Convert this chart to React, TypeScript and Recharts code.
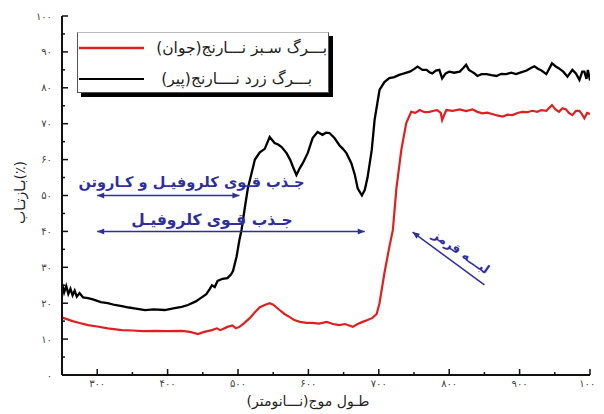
import React from 'react';
import { LineChart, Line, XAxis, YAxis, ReferenceLine, ReferenceDot, Legend } from 'recharts';

// wavelength (nm) and reflectance (%)
const blackWl = [250, 253, 256, 259, 262, 265, 268, 271, 275, 280, 287, 295, 305, 315, 325, 335, 345, 355, 368, 380, 396, 410, 420, 429, 440, 449, 455, 460, 463, 467, 471, 478, 485, 490, 493, 498, 502, 505, 510, 514, 519, 524, 531, 538, 545, 552, 557, 562, 569, 574, 578, 583, 588, 592, 599, 606, 613, 620, 625, 630, 637, 644, 649, 654, 661, 666, 670, 676, 680, 684, 690, 694, 701, 708, 715, 722, 729, 736, 744, 750, 755, 762, 768, 772, 776, 781, 786, 790, 795, 800, 807, 815, 820, 824, 828, 832, 836, 840, 846, 853, 860, 867, 874, 881, 888, 895, 902, 910, 916, 921, 926, 931, 938, 946, 951, 956, 962, 968, 975, 980, 985, 989, 992, 995, 997, 1000];
const blackVal = [25.5, 23, 24.8, 22.6, 24, 22.2, 23.5, 21.8, 22.8, 21.6, 21.4, 21, 20.3, 20, 19.5, 19.2, 18.8, 18.5, 18.1, 18.3, 18.1, 18.6, 19, 19.5, 20.5, 21.7, 22.5, 24, 25, 24.5, 26.2, 26.8, 27, 28, 29, 33, 37.6, 40.4, 47, 52, 56, 60, 62, 63, 66.3, 64.6, 64.2, 63.5, 61.8, 60, 58, 55.7, 57.7, 59, 61.8, 66, 67.7, 66.9, 67.5, 67.4, 66, 64, 63, 61.8, 59, 55.7, 52, 50, 51.5, 55, 62.7, 71, 79.4, 81.6, 82.7, 83, 83.6, 84, 84.5, 85.2, 85.9, 85, 85, 84.3, 84, 84.8, 85, 82.6, 84, 84.5, 84.2, 84.5, 85.5, 86.4, 85, 84.5, 84, 83.3, 83.8, 83.8, 83.5, 83.3, 83.9, 83.8, 84.2, 83.8, 84.3, 84.8, 85.5, 86, 85.3, 84.8, 83.8, 86.8, 86, 85.4, 84.5, 83.1, 85, 84, 82.2, 84.5, 84.5, 82.5, 85, 82];

const redWl = [250, 258, 265, 275, 287, 300, 315, 335, 350, 365, 382, 400, 420, 432, 443, 452, 463, 470, 475, 485, 492, 497, 502, 508, 517, 524, 531, 538, 545, 550, 559, 566, 573, 580, 588, 597, 606, 615, 626, 635, 644, 652, 663, 670, 677, 684, 691, 697, 701, 708, 715, 720, 725, 732, 739, 746, 752, 758, 765, 772, 778, 783, 788, 790, 793, 796, 805, 815, 824, 833, 840, 847, 854, 861, 868, 876, 883, 890, 897, 904, 911, 918, 925, 931, 938, 946, 951, 956, 961, 966, 970, 975, 980, 985, 989, 992, 996, 1000];
const redVal = [16, 15.5, 15, 14.5, 13.9, 13.5, 13, 12.5, 12.4, 12.2, 12.3, 12.2, 12.3, 12, 11.4, 12, 12.5, 13, 12.5, 13.4, 13.8, 13, 13.4, 14.3, 15.9, 17.5, 18.9, 19.5, 20, 19.6, 18.1, 17, 16.2, 15.3, 14.8, 14.5, 14.5, 14.3, 14.8, 14.2, 13.9, 14.2, 13.4, 14.2, 14.8, 15.3, 15.9, 17, 20, 28.4, 35.7, 40.4, 52, 62.7, 70.2, 73.3, 73, 73.8, 73.2, 73.3, 73.6, 73.8, 73, 71, 72.5, 73.8, 73.6, 74, 73.5, 74, 73.3, 72.9, 73.1, 72.7, 72.3, 72, 72.5, 72.4, 73, 73.3, 73.2, 73.6, 73.3, 73.8, 73.6, 75.2, 74, 73.3, 74.3, 74, 73, 72.4, 73.6, 73.6, 72.5, 71.5, 73, 72.7];

const xTicks = [300, 350, 400, 450, 500, 550, 600, 650, 700, 750, 800, 850, 900, 950, 1000];
const yTicks = [0, 5, 10, 15, 20, 25, 30, 35, 40, 45, 50, 55, 60, 65, 70, 75, 80, 85, 90, 95, 100];

const seriesNames = ['بـــرگ سـبز نـــارنج(جوان)', 'بـــرگ زرد نــــارنج(پیر)'];
const xTitle = 'طـول موج(نـــانومتر)';
const yTitle = 'بـازتـاب(٪)';
const noteBoth = 'جـذب قـوی کلروفیـل و کـاروتن';
const noteChl = 'جـذب قـوی کلروفیـل';
const noteRedEdge = 'لبـــه قرمز';

const blackData = blackWl.map((x, i) => ({ x, y: blackVal[i] }));
const redData = redWl.map((x, i) => ({ x, y: redVal[i] }));

const FA = '۰۱۲۳۴۵۶۷۸۹';
const toFa = (n: number) => String(n).replace(/\d/g, (d) => FA[+d]);

const FONT = '"DejaVu Sans", sans-serif';
const BLUE = '#2e2ea0';
const AX = '#111';

const LeftTick = (p: any) => {
  const v = p.payload.value;
  const major = v % 10 === 0;
  return (
    <g>
      <line x1={p.x} x2={p.x + (major ? 6 : 3)} y1={p.y} y2={p.y} stroke={AX} strokeWidth={1.5} />
      {major && (
        <text x={p.x - 10} y={p.y} dy={3.5} textAnchor="end" fontSize={10} fill="#444" fontFamily={FONT}>
          {toFa(v)}
        </text>
      )}
    </g>
  );
};
const RightTick = (p: any) => {
  const v = p.payload.value;
  const major = v % 10 === 0;
  return <line x1={p.x} x2={p.x - (major ? 5 : 3)} y1={p.y} y2={p.y} stroke={AX} strokeWidth={1.5} />;
};
const BottomTick = (p: any) => {
  const v = p.payload.value;
  const major = v % 100 === 0;
  return (
    <g>
      <line x1={p.x} x2={p.x} y1={p.y} y2={p.y - (major ? 6 : 3)} stroke={AX} strokeWidth={1.5} />
      {major && (
        <text x={p.x} y={p.y + 12} textAnchor="middle" fontSize={10} fill="#444" fontFamily={FONT}>
          {toFa(v)}
        </text>
      )}
    </g>
  );
};
const TopTick = (p: any) => {
  const v = p.payload.value;
  const major = v % 100 === 0;
  return <line x1={p.x} x2={p.x} y1={p.y} y2={p.y + (major ? 6 : 3)} stroke={AX} strokeWidth={1.5} />;
};

const head = (x: number, y: number, dx: number, dy: number) => {
  const len = Math.hypot(dx, dy) || 1;
  const ux = dx / len, uy = dy / len;
  const L = 7, W = 3;
  const bx = x - ux * L, by = y - uy * L;
  return `${x},${y} ${bx - uy * W},${by + ux * W} ${bx + uy * W},${by - ux * W}`;
};

const DoubleArrow = (p: any) => {
  const { x1, y1, x2, y2 } = p;
  return (
    <g>
      <line x1={x1} y1={y1} x2={x2} y2={y2} stroke={BLUE} strokeWidth={1.5} />
      <polygon points={head(x1, y1, x1 - x2, y1 - y2)} fill={BLUE} />
      <polygon points={head(x2, y2, x2 - x1, y2 - y1)} fill={BLUE} />
    </g>
  );
};
const SingleArrow = (p: any) => {
  const { x1, y1, x2, y2 } = p;
  return (
    <g>
      <line x1={x1} y1={y1} x2={x2} y2={y2} stroke={BLUE} strokeWidth={1.5} />
      <polygon points={head(x1, y1, x1 - x2, y1 - y2)} fill={BLUE} />
    </g>
  );
};

const noteText = (txt: string, size: number, rot = 0) => (p: any) => (
  <text
    x={p.cx}
    y={p.cy}
    dy={size * 0.35}
    textAnchor="middle"
    fontSize={size}
    fontWeight="bold"
    fill={BLUE}
    fontFamily={FONT}
    transform={rot ? `rotate(${rot} ${p.cx} ${p.cy})` : undefined}
  >
    {txt}
  </text>
);

const LegendBox = () => (
  <div
    style={{
      width: 252,
      height: 61,
      boxSizing: 'border-box',
      border: '1px solid #555',
      borderTopColor: '#bbb',
      background: '#fff',
      boxShadow: '4px 4px 0 #000',
    }}
  >
    <svg width={250} height={59} style={{ display: 'block' }}>
      <line x1={1} x2={66} y1={15} y2={15} stroke="#e02020" strokeWidth={2.5} />
      <text x={249} y={15} dy={5} textAnchor="end" fontSize={15.5} fill="#222" fontFamily={FONT}>
        {seriesNames[0]}
      </text>
      <line x1={1} x2={66} y1={46} y2={46} stroke="#000" strokeWidth={2} />
      <text x={234} y={46} dy={5} textAnchor="end" fontSize={15.5} fill="#222" fontFamily={FONT}>
        {seriesNames[1]}
      </text>
    </svg>
  </div>
);

export default function App() {
  return (
    <LineChart width={596} height={406} margin={{ top: 8, right: 14, bottom: 3, left: 14 }}>
      <XAxis
        xAxisId="b"
        dataKey="x"
        type="number"
        domain={[250, 1000]}
        allowDataOverflow
        ticks={xTicks}
        interval={0}
        height={36}
        tickSize={0}
        tickMargin={0}
        tickLine={false}
        axisLine={{ stroke: AX, strokeWidth: 2 }}
        tick={BottomTick}
        label={{
          content: (lp: any) => {
            const vb = lp.viewBox;
            return (
              <text x={vb.x + vb.width / 2 - 18} y={vb.y + vb.height - 5} textAnchor="middle" fontSize={14} fill="#222" fontFamily={FONT}>
                {xTitle}
              </text>
            );
          },
        }}
      />
      <XAxis
        xAxisId="t"
        dataKey="x"
        type="number"
        orientation="top"
        domain={[250, 1000]}
        allowDataOverflow
        ticks={xTicks}
        interval={0}
        height={0}
        tickSize={0}
        tickMargin={0}
        tickLine={false}
        axisLine={{ stroke: AX, strokeWidth: 2 }}
        tick={TopTick}
      />
      <YAxis
        yAxisId="l"
        type="number"
        domain={[0, 100]}
        ticks={yTicks}
        interval={0}
        width={40}
        tickSize={0}
        tickMargin={0}
        tickLine={false}
        axisLine={{ stroke: AX, strokeWidth: 2 }}
        tick={LeftTick}
        label={{
          content: (lp: any) => {
            const vb = lp.viewBox;
            const cx = vb.x - 2;
            const cy = vb.y + vb.height / 2 - 3;
            return (
              <text x={cx} y={cy} dy={5} textAnchor="middle" fontSize={14} fill="#222" fontFamily={FONT} transform={`rotate(-90 ${cx} ${cy})`}>
                {yTitle}
              </text>
            );
          },
        }}
      />
      <YAxis
        yAxisId="r"
        orientation="right"
        type="number"
        domain={[0, 100]}
        ticks={yTicks}
        interval={0}
        width={0}
        tickSize={0}
        tickMargin={0}
        tickLine={false}
        axisLine={{ stroke: AX, strokeWidth: 2 }}
        tick={RightTick}
      />
      <Legend
        layout="horizontal"
        verticalAlign="middle"
        align="center"
        wrapperStyle={{ left: 69, top: 24, width: 252, height: 61 }}
        content={() => <LegendBox />}
      />
      <Line
        xAxisId="b"
        yAxisId="l"
        data={blackData}
        dataKey="y"
        type="linear"
        dot={false}
        stroke="#000"
        strokeWidth={2.3}
        isAnimationActive={false}
      />
      <Line
        xAxisId="b"
        yAxisId="l"
        data={redData}
        dataKey="y"
        type="linear"
        dot={false}
        stroke="#e02020"
        strokeWidth={2.2}
        isAnimationActive={false}
      />
      <ReferenceLine xAxisId="b" yAxisId="l" segment={[{ x: 300, y: 50 }, { x: 502, y: 50 }]} shape={DoubleArrow} />
      <ReferenceLine xAxisId="b" yAxisId="l" segment={[{ x: 300, y: 40 }, { x: 680, y: 40 }]} shape={DoubleArrow} />
      <ReferenceLine xAxisId="b" yAxisId="l" segment={[{ x: 748, y: 39.8 }, { x: 850, y: 25.1 }]} shape={SingleArrow} />
      <ReferenceDot xAxisId="b" yAxisId="l" x={434} y={53.8} r={0} shape={noteText(noteBoth, 14.6)} />
      <ReferenceDot xAxisId="b" yAxisId="l" x={463} y={43.2} r={0} shape={noteText(noteChl, 15.5)} />
      <ReferenceDot xAxisId="b" yAxisId="l" x={817} y={34.3} r={0} shape={noteText(noteRedEdge, 12.5, 35)} />
    </LineChart>
  );
}
